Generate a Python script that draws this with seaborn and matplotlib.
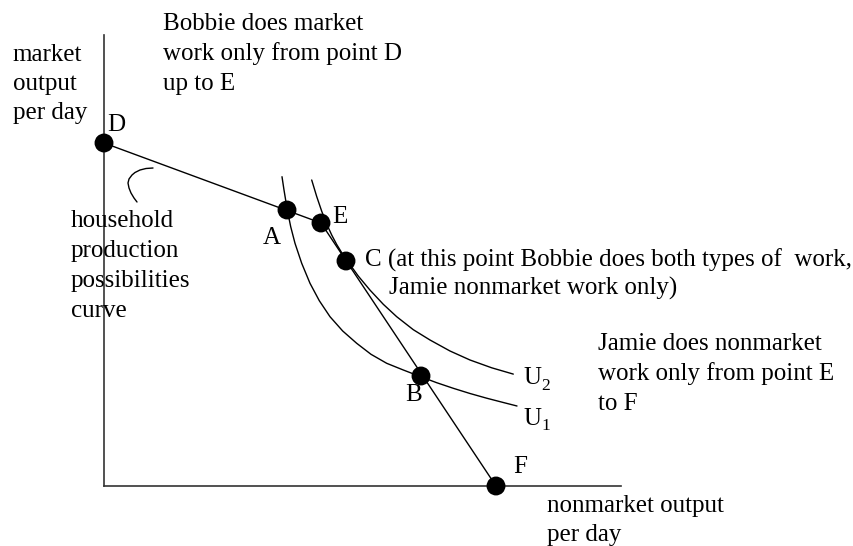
import matplotlib
matplotlib.use("Agg")
import matplotlib.pyplot as plt
import seaborn as sns

# nonmarket output (x) / market output (y), origin at the axes corner
point_names = ["D", "A", "E", "C", "B", "F"]
point_x = [0, 183, 217, 242, 317, 392]
point_y = [343, 276, 263, 225, 110, 0]

# household production possibilities frontier D -> E -> F
ppf_x = [0, 217, 392]
ppf_y = [343, 263, 0]

# indifference curves
u1_x = [178, 180, 183.3, 186.7, 191, 197.7, 206, 215.3, 226, 238.7, 252.7,
        267, 282.7, 299.3, 316.7, 332.7, 349.3, 366, 382.7, 399.3, 413]
u1_y = [309.3, 296, 276, 259.3, 242.7, 222.7, 202.7, 185.3, 169.3, 155, 142.7,
        131.7, 122.7, 116, 109.3, 103.3, 97.7, 92.5, 87.8, 83.5, 80]
u2_x = [207.7, 212.7, 217.7, 222.7, 227.7, 232.7, 237.7, 242.7, 254.3,
        266, 279.3, 292.7, 309.3, 326, 346, 366, 387.7, 409.3]
u2_y = [306, 289.5, 274.8, 262, 251, 241.5, 233.3, 226, 209.9,
        195.9, 181.7, 169.3, 156.3, 146, 135, 126, 118.2, 111.9]

# little pointer to the frontier
hook_x = [49, 42, 36, 31, 28, 25, 24, 25, 27, 30, 33]
hook_y = [318, 317.5, 316, 313.5, 311, 307, 303, 298, 293, 288, 284]


def main():
	sns.set_theme(style="white")
	plt.rcParams['font.family'] = ['Liberation Serif', 'DejaVu Serif']

	fig = plt.figure(figsize=(8.54, 5.46), dpi=100)
	ax = fig.add_axes([0, 0, 1, 1])
	ax.set_xlim(-104, 750)
	ax.set_ylim(-60, 486)

	# axes of the diagram
	for side in ['top', 'right']:
		ax.spines[side].set_visible(False)
	ax.spines['left'].set_position(('data', 0))
	ax.spines['bottom'].set_position(('data', 0))
	ax.spines['left'].set_bounds(0, 451)
	ax.spines['bottom'].set_bounds(0, 517)
	for side in ['left', 'bottom']:
		ax.spines[side].set_color('#333333')
		ax.spines[side].set_linewidth(1.2)
	ax.set_xticks([])
	ax.set_yticks([])

	lw = 1.0
	sns.lineplot(x=ppf_x, y=ppf_y, sort=False, estimator=None, color='black', lw=lw, ax=ax)
	sns.lineplot(x=u1_x, y=u1_y, sort=False, estimator=None, color='black', lw=lw, ax=ax)
	sns.lineplot(x=u2_x, y=u2_y, sort=False, estimator=None, color='black', lw=lw, ax=ax)
	sns.lineplot(x=hook_x, y=hook_y, sort=False, estimator=None, color='black', lw=lw, ax=ax)
	sns.scatterplot(x=point_x, y=point_y, s=185, color='black', edgecolor='none', zorder=5, ax=ax)

	fs = 18
	def txt(px, py, s, size=fs, step=29.5):
		# px: left edge, py: baseline of first line, both in figure pixels
		for i, line in enumerate(s.split('\n')):
			ax.text(px - 104, 486 - (py + i * step), line, fontsize=size,
			        ha='left', va='baseline', color='black')

	txt(12.7, 61, "market\noutput\nper day", step=29)
	txt(163, 30, "Bobbie does market\nwork only from point D\nup to E", step=30)
	txt(70.7, 227, "household\nproduction\npossibilities\ncurve", step=30)
	txt(107, 131, point_names[0])
	txt(263, 244, point_names[1])
	txt(332, 223, point_names[2])
	txt(365, 267, point_names[3] + " (at this point Bobbie does both types of  work,")
	txt(389, 295, "Jamie nonmarket work only)")
	txt(405, 401, point_names[4])
	txt(513, 473, point_names[5])
	txt(523, 384, "U")
	txt(541, 390, "2", size=12.5)
	txt(523, 425, "U")
	txt(541, 430, "1", size=12.5)
	txt(598, 350, "Jamie does nonmarket\nwork only from point E\nto F", step=30)
	txt(547, 512, "nonmarket output\nper day", step=29)

	fig.savefig('out.png', dpi=100)


if __name__ == '__main__':
	main()
